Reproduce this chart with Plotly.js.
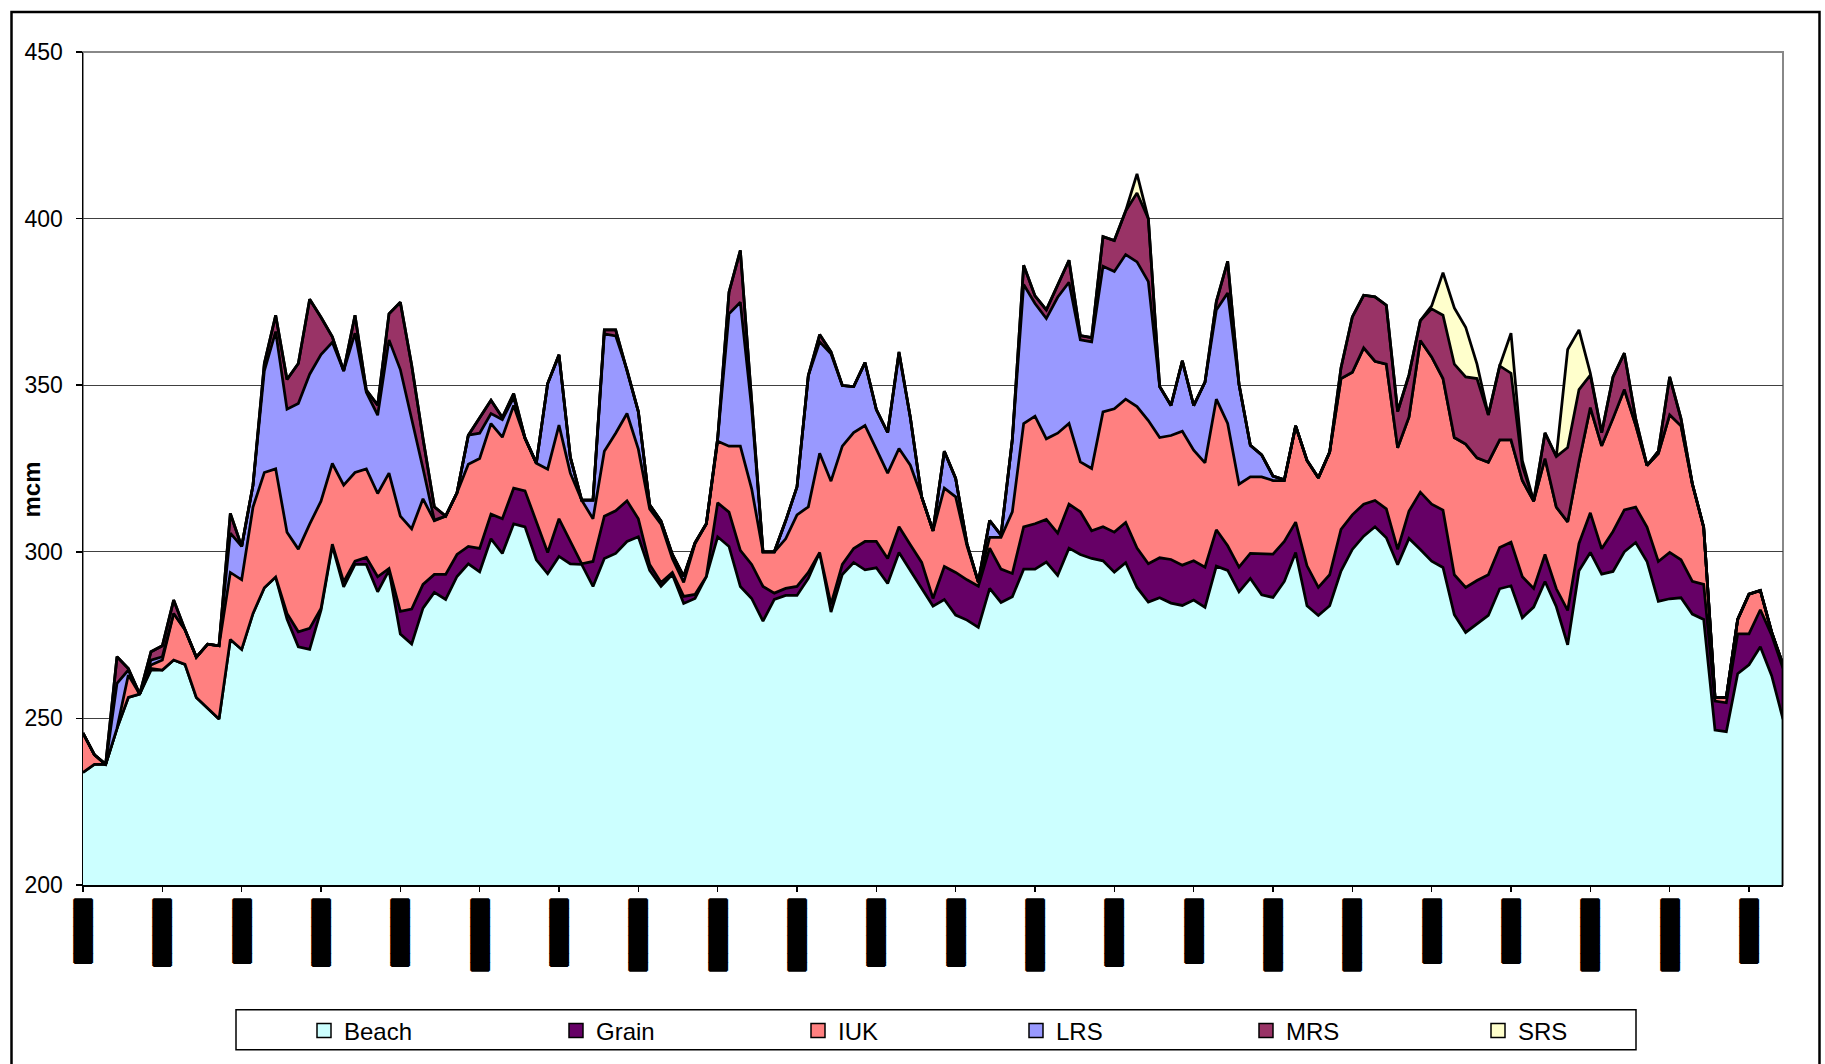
<!DOCTYPE html>
<html>
<head>
<meta charset="utf-8">
<script src="https://cdn.plot.ly/plotly-3.0.1.min.js"></script>
<style>
  html, body { margin: 0; padding: 0; background: #ffffff; }
  #chart { width: 1825px; height: 1064px; }
</style>
</head>
<body>
<div id="chart"></div>
<script>
// ---- Data (daily values, mcm) ----
const beach = [
  233.8, 236.2, 236.2, 247.0, 256.3, 257.3, 264.5, 264.5, 267.5, 266.2,
  256.3, 253.1, 249.8, 273.7, 270.7, 281.5, 289.2, 292.4, 279.8, 271.5,
  270.7, 282.5, 301.8, 289.5, 296.2, 296.2, 288.0, 294.4, 275.3, 272.3,
  283.1, 287.8, 285.7, 292.6, 296.4, 294.0, 303.9, 299.5, 308.4, 307.5,
  297.6, 293.4, 298.6, 296.4, 296.2, 289.6, 298.0, 299.5, 303.1, 304.5,
  294.4, 289.6, 293.2, 284.5, 286.0, 292.6, 304.5, 301.6, 289.6, 286.0,
  279.2, 285.7, 286.9, 286.9, 292.0, 299.8, 281.9, 293.2, 296.8, 294.6,
  295.2, 290.5, 299.8, 294.4, 289.0, 283.7, 285.7, 281.0, 279.5, 277.3,
  289.0, 284.8, 286.5, 294.8, 294.8, 296.9, 292.9, 301.1, 299.2, 298.0,
  297.3, 293.9, 296.7, 289.3, 284.9, 286.2, 284.6, 283.9, 285.5, 283.3,
  295.7, 294.4, 288.0, 292.0, 287.1, 286.3, 291.1, 299.8, 283.8, 280.9,
  283.8, 294.2, 300.7, 304.7, 307.5, 304.2, 296.1, 304.0, 300.7, 297.2,
  295.3, 281.1, 275.8, 278.4, 280.9, 288.9, 289.8, 280.2, 283.4, 291.1,
  283.5, 272.1, 294.3, 299.8, 293.3, 294.1, 300.0, 302.8, 297.1, 285.1,
  285.9, 286.2, 281.3, 279.7, 246.5, 246.0, 263.4, 266.1, 271.5, 262.8,
  249.8
];
const grain = [
  0, 0, 0, 0, 0, 0, 0.5, 0, 0, 0,
  0, 0, 0, 0, 0, 0, 0, 0, 1.7, 4.5,
  6.3, 0.5, 0.5, 1.5, 1.0, 2.1, 4.5, 0.6, 6.8, 10.5,
  7.1, 5.4, 7.5, 6.6, 5.2, 7.0, 7.4, 10.4, 10.7, 10.8,
  11.7, 6.4, 11.3, 6.9, 0.2, 7.5, 12.7, 12.8, 12.2, 5.4,
  1.8, 1.2, 0.6, 2.1, 1.2, 0, 10.2, 10.3, 10.8, 10.2,
  10.4, 1.9, 2.1, 2.7, 1.8, 0, 2.3, 3.0, 4.2, 8.5,
  7.9, 7.5, 7.7, 7.7, 7.8, 2.3, 9.9, 12.8, 12.1, 12.4,
  12.1, 10.0, 7.0, 12.7, 13.6, 12.8, 12.7, 13.2, 12.8, 8.3,
  10.2, 12.0, 12.1, 11.8, 11.5, 12.0, 13.1, 12.1, 11.8, 12.1,
  10.9, 7.4, 7.4, 7.5, 12.2, 13.0, 12.0, 9.1, 12.0, 8.4,
  9.3, 12.5, 10.4, 9.6, 7.9, 8.7, 4.6, 8.2, 17.2, 17.1,
  17.2, 12.0, 13.5, 13.0, 12.2, 12.4, 13.1, 12.3, 5.6, 8.1,
  5.4, 10.3, 8.2, 11.9, 7.6, 12.0, 12.6, 10.6, 10.3, 12.0,
  13.9, 11.4, 9.8, 10.5, 8.7, 8.7, 12.0, 9.3, 11.1, 12.2,
  15.2
];
const iuk = [
  11.8, 2.9, 0, 0, 6.7, 0, 1.0, 3.0, 14.0, 10.4,
  12.1, 19.2, 22.0, 20.1, 20.9, 31.9, 34.6, 32.5, 24.4, 24.8,
  31.3, 32.2, 24.2, 29.0, 26.6, 26.6, 25.0, 28.6, 28.6, 24.1,
  25.7, 16.1, 17.5, 18.5, 24.7, 27.0, 27.2, 24.5, 24.8, 15.8,
  17.3, 25.0, 28.1, 20.3, 19.1, 12.8, 19.5, 23.3, 26.2, 20.9,
  16.7, 17.5, 4.2, 4.2, 15.2, 15.8, 18.5, 19.8, 31.3, 22.7,
  10.4, 12.4, 14.9, 21.5, 19.7, 29.8, 37.0, 35.5, 34.8, 34.8,
  27.7, 25.6, 23.5, 23.9, 19.7, 20.3, 23.5, 22.7, 10.2, 1.2,
  3.2, 9.5, 18.5, 31.0, 32.3, 24.2, 30.0, 24.2, 15.0, 18.7,
  34.5, 37.0, 37.0, 42.5, 43.0, 36.1, 37.2, 40.2, 33.2, 31.3,
  39.2, 36.7, 24.9, 23.0, 23.2, 22.1, 18.3, 28.9, 31.6, 32.9,
  36.8, 45.3, 42.8, 46.9, 41.8, 43.4, 30.5, 28.3, 45.5, 44.2,
  39.5, 41.2, 43.0, 36.8, 33.8, 32.3, 30.7, 28.9, 26.2, 28.8,
  24.5, 26.6, 24.5, 31.6, 30.9, 33.9, 36.1, 24.6, 18.5, 32.4,
  41.3, 40.2, 29.3, 17.2, 1.1, 1.6, 4.3, 11.9, 5.8, 0.9,
  1.1
];
const lrs = [
  0, 0, 0, 13.5, 1.5, 0, 1.5, 1.0, 0, 0,
  0, 0, 0, 11.8, 10.0, 6.6, 30.5, 41.2, 36.9, 43.7,
  45.0, 44.0, 36.4, 34.3, 41.8, 23.0, 23.5, 40.0, 44.0, 33.1,
  9.1, 0.2, 0, 0, 8.7, 7.6, 3.0, 5.3, 2.4, 0,
  0, 25.7, 21.1, 4.8, 0, 5.6, 35.2, 29.2, 13.2, 11.3,
  1.2, 0.9, 1.2, 1.8, 0.3, 0, 0.8, 39.7, 43.2, 24.1,
  0, 0, 5.4, 8.4, 39.4, 33.4, 38.2, 18.2, 13.8, 18.9,
  11.9, 12.2, 28.5, 14.3, 0, 0, 11.1, 5.5, 0.6, 0,
  5.1, 0.7, 21.7, 41.7, 33.8, 36.1, 40.8, 42.4, 36.6, 38.0,
  43.7, 41.2, 43.4, 43.4, 41.7, 15.3, 9.0, 21.1, 13.4, 24.2,
  26.8, 39.2, 30.0, 9.5, 6.6, 1.3, 0.2, 0, 0, 0,
  0, 0, 0, 0, 0, 0, 0, 0, 0, 0,
  0, 0, 0, 0, 0, 0, 0, 0, 0, 0,
  0, 0, 0, 0, 0, 0, 0, 0, 0, 0,
  0, 0, 0, 0, 0, 0, 0, 0, 0, 0,
  0
];
const mrs = [
  0, 0, 0, 8.0, 0.5, 0, 2.5, 3.3, 4.0, 0,
  0, 0, 0, 5.9, 0, 0, 2.2, 4.9, 8.9, 12.0,
  22.5, 11.2, 1.6, 0, 5.4, 0.6, 3.0, 7.8, 20.2, 16.0,
  9.0, 4.0, 0, 0, 0, 4.7, 4.0, 0.6, 1.2, 0,
  0, 0, 0, 0, 0, 0, 1.2, 1.8, 0, 0,
  0, 0, 0, 0, 0, 0, 0, 6.5, 15.6, 2.0,
  0, 0, 0, 0, 0, 2.2, 0.6, 0, 0, 0,
  0, 0, 0.5, 0, 0, 0, 0, 0, 0, 0,
  0, 0, 0, 5.8, 2.3, 2.6, 3.8, 6.6, 1.3, 1.3,
  8.9, 9.3, 13.1, 20.7, 18.9, 0, 0, 0, 0, 0,
  2.5, 9.5, 0, 0, 0, 0, 0, 0, 0, 0,
  0, 3.2, 16.6, 15.8, 19.3, 17.7, 10.9, 12.6, 6.0, 14.4,
  19.0, 22.0, 20.2, 23.8, 14.2, 22.2, 20.0, 4.4, 0, 7.7,
  15.2, 22.3, 21.7, 9.7, 3.9, 12.5, 10.9, 2.0, 0, 0.7,
  11.4, 2.2, 0, 0, 0, 0, 0, 0, 0, 0,
  0
];
const srs = [
  0, 0, 0, 0, 0, 0, 0, 0, 0, 0,
  0, 0, 0, 0, 0, 0, 0, 0, 0, 0,
  0, 0, 0, 0, 0, 0, 0, 0, 0, 0,
  0, 0, 0, 0, 0, 0, 0, 0, 0, 0,
  0, 0, 0, 0, 0, 0, 0, 0, 0, 0,
  0, 0, 0, 0, 0, 0, 0, 0, 0, 0,
  0, 0, 0, 0, 0, 0, 0, 0, 0, 0,
  0, 0, 0, 0, 0, 0, 0, 0, 0, 0,
  0, 0, 0, 0, 0, 0, 0, 0, 0, 0,
  0, 0, 0, 5.7, 0, 0, 0, 0, 0, 0,
  0, 0, 0, 0, 0, 0, 0, 0, 0, 0,
  0, 0, 0, 0, 0, 0, 0, 0, 0, 0.9,
  12.8, 16.9, 14.9, 4.3, 0, 0, 12.0, 1.6, 0, 0,
  0, 29.4, 17.9, 0.6, 0, 0, 0, 0, 0, 0,
  0, 0, 0, 0, 0, 0, 0, 0, 0, 0,
  0
];

const seriesNames = ['Beach', 'Grain', 'IUK', 'LRS', 'MRS', 'SRS'];
const fillColors = ['#CCFFFF', '#660066', '#FF8080', '#9999FF', '#993366', '#FFFFCC'];

// weekly category ticks; the original date labels are rendered as solid black blocks
const tickPos = [0, 7, 14, 21, 28, 35, 42, 49, 56, 63, 70, 77, 84, 91, 98, 105, 112, 119, 126, 133, 140, 147];
const tickLabels = [
  '███████', '███████▍', '███████', '███████▍', '███████▍', '███████▉', '███████▍', '███████▉',
  '███████▉', '███████▉', '███████▍', '███████▍', '███████▉', '███████▍', '███████', '███████▉',
  '███████▉', '███████', '███████', '███████▉', '███████▉', '███████'
];

// ---- Geometry helpers (pixel -> paper) ----
const W = 1825, H = 1064;
const M = { l: 83, r: 42, t: 52, b: 178 };
const pw = W - M.l - M.r, ph = H - M.t - M.b;
const pxX = p => (p - M.l) / pw;
const pxY = p => (H - M.b - p) / ph;

const day = beach.map((_, i) => i);
const values = [beach, grain, iuk, lrs, mrs, srs];

const areaTraces = values.map((v, k) => ({
  type: 'scatter',
  mode: 'lines',
  name: seriesNames[k],
  x: day,
  y: v,
  stackgroup: 'one',
  fillcolor: fillColors[k],
  line: { color: '#000000', width: 2.75 },
  showlegend: false,
  hoverinfo: 'skip'
}));

const legendIds = ['legend', 'legend2', 'legend3', 'legend4', 'legend5', 'legend6'];
const legendTraces = seriesNames.map((n, k) => ({
  type: 'scatter',
  mode: 'markers',
  name: n,
  x: [null],
  y: [null],
  legend: legendIds[k],
  showlegend: true,
  marker: { symbol: 'square', size: 14, color: fillColors[k], line: { color: '#000000', width: 1.5 } },
  hoverinfo: 'skip'
}));

// legend entry left edges (px)
const legendLeft = [304, 556, 798, 1016, 1246, 1478];
const legendFont = { family: 'Liberation Sans, Arial, sans-serif', size: 24, color: '#000000' };

const layout = {
  width: W,
  height: H,
  margin: M,
  paper_bgcolor: '#ffffff',
  plot_bgcolor: '#ffffff',
  font: { family: 'Liberation Sans, Arial, sans-serif', color: '#000000' },
  xaxis: {
    type: 'linear',
    range: [0, beach.length - 1],
    tickmode: 'array',
    tickvals: tickPos,
    ticktext: tickLabels,
    tickangle: 90,
    ticks: 'outside',
    ticklen: 5,
    tickwidth: 1.5,
    tickcolor: '#000000',
    ticklabelstandoff: 5,
    tickfont: {
      family: 'DejaVu Sans Mono, monospace', size: 15, color: '#000000',
      shadow: '1px 0px 0px #000, -1px 0px 0px #000, 0px 1px 0px #000, 0px -1px 0px #000'
    },
    showline: true,
    linecolor: '#000000',
    linewidth: 1.5,
    showgrid: false,
    zeroline: false,
    fixedrange: true
  },
  yaxis: {
    range: [200, 450],
    tick0: 200,
    dtick: 50,
    ticks: 'outside',
    ticklen: 6,
    tickwidth: 1.5,
    tickcolor: '#000000',
    ticklabelstandoff: 8,
    tickfont: { family: 'Liberation Sans, Arial, sans-serif', size: 23, color: '#000000' },
    showline: true,
    linecolor: '#000000',
    linewidth: 1.5,
    showgrid: true,
    gridcolor: '#404040',
    gridwidth: 1,
    zeroline: false,
    fixedrange: true
  },
  annotations: [{
    xref: 'paper', yref: 'paper',
    x: pxX(31), y: pxY(490),
    xanchor: 'center', yanchor: 'middle',
    text: '<b>mcm</b>',
    textangle: -90,
    showarrow: false,
    font: { family: 'Liberation Sans, Arial, sans-serif', size: 24, color: '#000000' }
  }],
  shapes: [
    // plot-area frame (grey)
    { type: 'rect', xref: 'paper', yref: 'paper', x0: 0, x1: 1, y0: 0, y1: 1,
      line: { color: '#888888', width: 2 }, layer: 'below' },
    // right edge of the stacked area
    { type: 'line', xref: 'x', yref: 'y', x0: beach.length - 1, x1: beach.length - 1,
      y0: 200, y1: values.reduce((s, v) => s + v[v.length - 1], 0),
      line: { color: '#000000', width: 2.75 } },
    // legend frame
    { type: 'rect', xref: 'paper', yref: 'paper',
      x0: pxX(236), x1: pxX(1636), y0: pxY(1051), y1: pxY(1011),
      line: { color: '#000000', width: 1.5 } },
    // chart-area frame
    { type: 'rect', xref: 'paper', yref: 'paper',
      x0: pxX(11.5), x1: pxX(1819.5), y0: pxY(1120), y1: pxY(12),
      line: { color: '#000000', width: 2.5 } }
  ]
};

legendIds.forEach((id, k) => {
  layout[id] = {
    x: pxX(legendLeft[k]),
    xanchor: 'left',
    y: pxY(1031),
    yanchor: 'middle',
    orientation: 'h',
    bgcolor: 'rgba(0,0,0,0)',
    borderwidth: 0,
    font: legendFont
  };
});

Plotly.newPlot('chart', areaTraces.concat(legendTraces), layout, { displayModeBar: false, staticPlot: true });
</script>
</body>
</html>
